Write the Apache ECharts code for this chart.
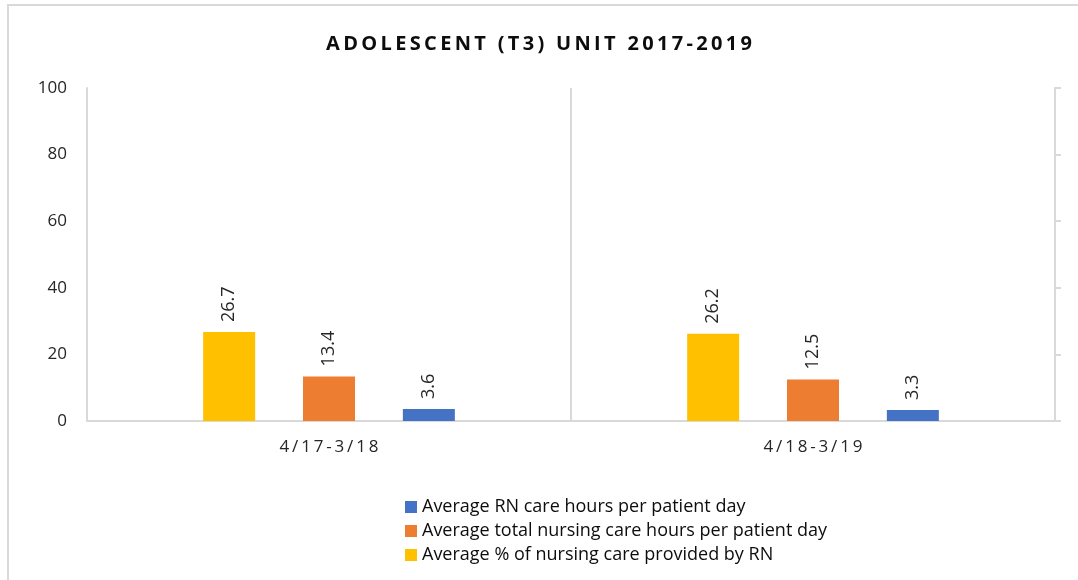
<!DOCTYPE html>
<html>
<head>
<meta charset="utf-8">
<script src="https://cdn.jsdelivr.net/npm/echarts@6/dist/echarts.min.js"></script>
<style>
  html, body { margin: 0; padding: 0; background: #fff; overflow: hidden; }
  #frame { position: absolute; left: 7px; top: 4px; width: 1200px; height: 700px; border-left: 2px solid #d9d9d9; border-top: 2px solid #d9d9d9; }
  #main { position: absolute; left: 0; top: 0; width: 1078px; height: 580px; }
</style>
</head>
<body>
<div id="frame"></div>
<div id="main"></div>
<script>
const categories = ['4/17-3/18', '4/18-3/19'];
const pctByRN = [26.7, 26.2];
const totalHours = [13.4, 12.5];
const rnHours = [3.6, 3.3];
const yTicks = [0, 20, 40, 60, 80, 100];

const names = {
  rn: 'Average RN care hours per patient day',
  total: 'Average total nursing care hours per patient day',
  pct: 'Average % of nursing care provided by RN'
};

const font = 'Open Sans';
// spread characters a bit, like the spaced-out Excel text
const spread = (s, sep) => s.split('').join(sep);

let myChart = echarts.init(document.getElementById('main'));

const labelStyle = {
  show: true,
  position: 'top',
  rotate: 90,
  align: 'left',
  verticalAlign: 'middle',
  distance: 10,
  fontSize: 18,
  color: '#262626',
  fontFamily: font
};

myChart.setOption({
  animation: false,
  title: {
    text: spread('ADOLESCENT (T3) UNIT 2017-2019', '\u2009'),
    left: 'center',
    top: 29,
    textStyle: { fontSize: 20, fontWeight: 'bold', color: '#0d0d0d', fontFamily: font }
  },
  legend: {
    orient: 'vertical',
    left: 400,
    top: 492,
    itemWidth: 12,
    itemHeight: 12,
    itemGap: 4,
    icon: 'rect',
    data: [names.rn, names.total, names.pct],
    textStyle: { fontSize: 18, color: '#0d0d0d', fontFamily: font, lineHeight: 20 }
  },
  grid: { left: 87, right: 23, top: 88, bottom: 159 },
  xAxis: {
    type: 'category',
    data: categories,
    axisLine: { lineStyle: { color: '#d9d9d9', width: 2 } },
    axisTick: { show: false },
    splitLine: { show: true, lineStyle: { color: '#d9d9d9', width: 2 } },
    axisLabel: {
      fontSize: 17,
      color: '#262626',
      fontFamily: font,
      margin: 18,
      formatter: v => spread(v, '\u2009')
    }
  },
  yAxis: [
    {
      type: 'value',
      min: yTicks[0],
      max: yTicks[yTicks.length - 1],
      interval: 20,
      axisLine: { show: true, lineStyle: { color: '#d9d9d9', width: 2 } },
      axisTick: { show: false },
      splitLine: { show: false },
      axisLabel: { fontSize: 17, color: '#262626', fontFamily: font, margin: 20 }
    },
    {
      type: 'value',
      position: 'right',
      min: yTicks[0],
      max: yTicks[yTicks.length - 1],
      interval: 20,
      axisLine: { show: true, lineStyle: { color: '#d9d9d9', width: 2 } },
      axisTick: { show: true, inside: false, length: 6, lineStyle: { color: '#d9d9d9', width: 2 } },
      splitLine: { show: false },
      axisLabel: { show: false }
    }
  ],
  series: [
    {
      name: names.pct,
      type: 'bar',
      data: pctByRN,
      barWidth: 52,
      barGap: '92%',
      itemStyle: { color: '#FFC000' },
      label: labelStyle
    },
    {
      name: names.total,
      type: 'bar',
      data: totalHours,
      barWidth: 52,
      barGap: '92%',
      itemStyle: { color: '#ED7D31' },
      label: labelStyle
    },
    {
      name: names.rn,
      type: 'bar',
      data: rnHours,
      barWidth: 52,
      barGap: '92%',
      itemStyle: { color: '#4472C4' },
      label: labelStyle
    }
  ]
});
</script>
</body>
</html>
